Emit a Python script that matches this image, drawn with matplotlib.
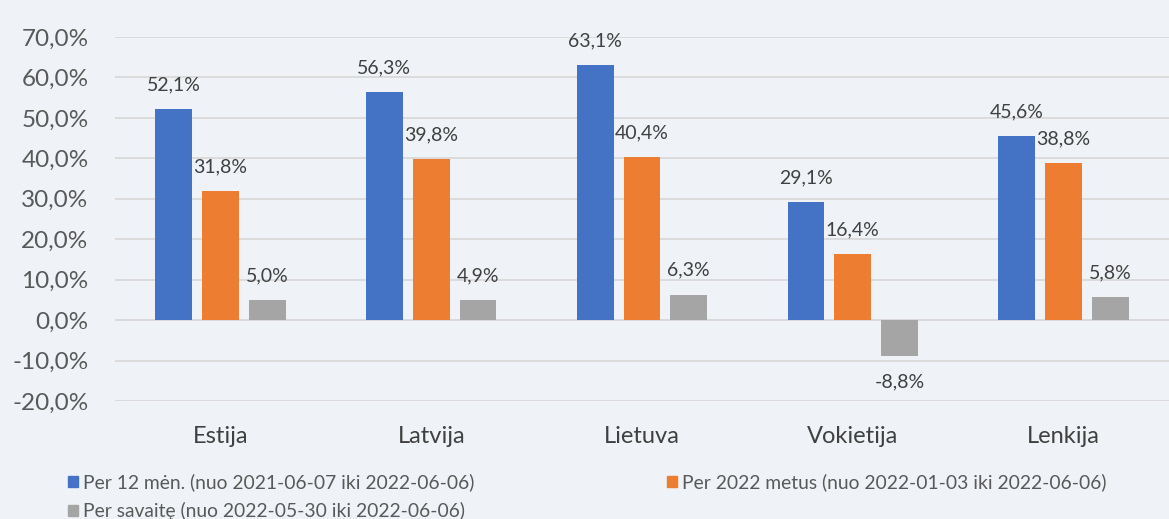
import matplotlib.pyplot as plt
import numpy as np
from matplotlib.patches import Patch

plt.rcParams['font.family'] = ['Lato', 'DejaVu Sans']

countries = ["Estija", "Latvija", "Lietuva", "Vokietija", "Lenkija"]
per_12_men = [52.1, 56.3, 63.1, 29.1, 45.6]
per_2022 = [31.8, 39.8, 40.4, 16.4, 38.8]
per_savaite = [5.0, 4.9, 6.3, -8.8, 5.8]

series_names = [
    "Per 12 mėn. (nuo 2021-06-07 iki 2022-06-06)",
    "Per 2022 metus (nuo 2022-01-03 iki 2022-06-06)",
    "Per savaitę (nuo 2022-05-30 iki 2022-06-06)",
]
colors = ["#4472C4", "#ED7D31", "#A5A5A5"]
yticks = [-20, -10, 0, 10, 20, 30, 40, 50, 60, 70]

BG = "#EFF3F7"


def fmt_pct(v):
    return f"{v:.1f}%".replace(".", ",")


fig = plt.figure(figsize=(11.69, 5.19), dpi=100, facecolor=BG)
ax = fig.add_axes([115 / 1169, 118 / 519, 1 - 115 / 1169, 364 / 519])
ax.set_facecolor(BG)

x = np.arange(len(countries))
width = 0.175
step = 0.222
data = [per_12_men, per_2022, per_savaite]

for i, (vals, col) in enumerate(zip(data, colors)):
    pos = x + (i - 1) * step
    ax.bar(pos, vals, width=width, color=col, zorder=3)
    for px, v in zip(pos, vals):
        off = 6.0 if v >= 0 else -6.5
        ax.text(px, v + off, fmt_pct(v), ha="center", va="center",
                fontsize=14, color="#404040")

ax.set_xlim(-0.5, len(countries) - 0.5)
ax.set_ylim(-20, 70)
ax.set_yticks(yticks)
ax.set_yticklabels([fmt_pct(t) for t in yticks], fontsize=17.5, color="#595959")
ax.set_xticks(x)
ax.set_xticklabels(countries, fontsize=17, color="#404040")
ax.tick_params(axis="both", length=0)
ax.tick_params(axis="x", pad=18)
ax.tick_params(axis="y", pad=19)

ax.grid(axis="y", color="#D9D9D9", linewidth=1.3, zorder=0)
ax.axhline(0, color="#D9D9D9", linewidth=1.3, zorder=1)
for s in ax.spines.values():
    s.set_visible(False)

handles = [Patch(color=c) for c in colors]
order = [0, 2, 1]
fig.legend([handles[i] for i in order], [series_names[i] for i in order],
           loc="upper left", bbox_to_anchor=(51 / 1169, 1 - 456 / 519),
           ncol=2, frameon=False, fontsize=13.9, labelcolor="#595959",
           handlelength=0.5, handleheight=0.5, handletextpad=0.25,
           columnspacing=10.0, labelspacing=0.55)

fig.savefig("out.png", dpi=100, facecolor=BG)
